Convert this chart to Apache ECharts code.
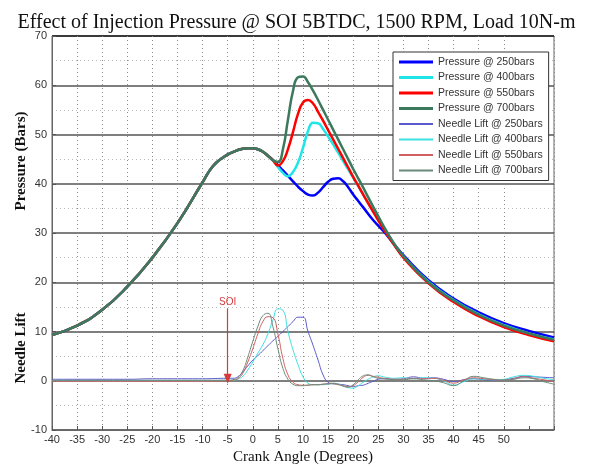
<!DOCTYPE html>
<html lang="en">
<head>
    <meta http-equiv="Content-Type" content="text/html; charset=UTF-8">
    <title>Effect of Injection Pressure</title>
    <script type="text/javascript" src="https://cdn.jsdelivr.net/npm/echarts@6/dist/echarts.min.js"></script>
</head>

<body style="margin: 0; width: 593px; height: 470px; background: #fff">
<div id="main" style="width: 593px; height: 470px"></div>
<script type="text/javascript">
    // crank angles used for the pressure traces
    var pAngle = [-40, -35, -30, -25, -20, -15, -10, -8, -6, -4, -2, -1,
        0, 1, 2, 3, 4, 5, 6, 7, 8, 9, 10, 11, 12, 13, 14, 15, 16, 17, 18, 19, 20, 21, 22,
        24, 26, 28, 30, 35, 40, 45, 50, 55, 60];

    // compression part, same for all four pressures (-40 .. 4 deg)
    var pCommon = [9.3, 11.2, 14.4, 19.1, 25.0, 32.0, 40.3, 43.5, 45.3, 46.4, 47.1, 47.2,
        47.2, 47.0, 46.5, 45.7, 44.8];

    // from 5 deg onward
    var p250 = [43.8, 42.7, 41.6, 40.5, 39.4, 38.5, 37.8, 37.6, 38.2, 39.3, 40.4, 41.0, 41.1, 40.5, 39.3, 37.8, 36.5, 35.2,
        32.6, 30.4, 27.9, 25.5, 20.4, 16.7, 13.9, 11.7, 10.1, 8.8];
    var p400 = [43.4, 42.2, 41.5, 42.4, 44.3, 47.3, 50.7, 52.4, 52.3, 51.1, 49.6, 48.0, 46.3, 44.6, 42.9, 41.2, 39.5, 37.8,
        34.3, 31.0, 27.9, 25.2, 20.1, 16.4, 13.5, 11.3, 9.6, 8.4];
    var p550 = [43.7, 44.6, 47.0, 50.5, 54.2, 56.5, 57.0, 56.3, 54.6, 52.8, 50.9, 49.0, 47.1, 45.2, 43.3, 41.4, 39.6, 37.8,
        34.3, 30.9, 27.8, 25.0, 19.8, 16.0, 13.1, 10.9, 9.3, 8.0];
    var p700 = [44.4, 47.0, 53.0, 58.8, 61.6, 61.8, 60.6, 58.9, 57.0, 55.0, 53.0, 51.0, 49.0, 47.0, 45.0, 43.0, 41.1, 39.2,
        35.3, 31.5, 28.1, 25.3, 20.0, 16.3, 13.4, 11.2, 9.6, 8.3];

    // crank angles used for the needle lift traces
    var liftAngle = [-40, -35, -30, -25, -20, -15, -10, -5, -4, -3, -2, -1,
        0, 1, 2, 3, 4, 5, 6, 7, 8, 9, 10, 11, 12, 13, 14, 15, 16, 17, 18, 19, 20, 21, 22, 23, 24, 25, 26, 27, 28,
        30, 32, 34, 36, 38, 40, 42, 44, 46, 48, 50, 52, 54, 56, 58, 60];

    var lift250 = [0.3, 0.3, 0.3, 0.3, 0.4, 0.4, 0.4, 0.5, 0.5, 0.8, 1.8, 3.0,
        4.2, 5.1, 6.1, 7.1, 8.1, 9.0, 10.0, 11.0, 12.0, 12.9, 12.9, 10.0, 7.2, 4.2, 1.2, -0.3, -0.6, -0.7, -0.8, -1.0, -1.2,
        -1.0, -0.9, -0.5, -0.1, 0.3, 0.4, 0.4, 0.3,
        0.4, 0.8, 0.5, 0.6, 0.3, -0.2, 0.2, 0.4, 0.2, 0.1, 0.2, 0.5, 0.9, 0.8, 0.7, 0.6];
    var lift400 = [0.0, 0.0, 0.0, 0.0, 0.0, 0.0, 0.0, 0.1, 0.1, 0.3, 0.9, 2.2,
        3.8, 5.6, 7.3, 9.5, 12.3, 14.6, 14.3, 10.0, 6.3, 3.3, 0.8, -0.5, -0.8, -0.8, -0.8, -0.7, -0.6, -0.7, -1.0, -1.4, -1.5,
        -1.0, -0.3, 0.3, 0.8, 1.0, 0.8, 0.6, 0.5,
        0.6, 0.4, 0.6, 0.5, 0.0, -0.9, -0.2, 0.4, 0.3, 0.2, 0.3, 0.8, 1.1, 0.9, 0.5, 0.2];
    var lift550 = [-0.1, -0.1, -0.1, -0.1, -0.1, -0.1, -0.1, 0.0, 0.1, 0.4, 1.5, 3.8,
        6.5, 9.5, 12.0, 13.0, 12.8, 9.5, 4.5, 1.2, -0.3, -0.8, -0.9, -0.9, -0.8, -0.8, -0.7, -0.6, -0.6, -0.8, -1.0, -1.2, -1.0,
        -0.2, 0.7, 1.1, 0.9, 0.7, 0.5, 0.4, 0.3,
        0.3, 0.5, 0.4, 0.5, 0.1, -0.5, 0.2, 0.6, 0.4, 0.2, 0.1, 0.4, 0.8, 0.5, 0.2, -0.2];
    var lift700 = [0.1, 0.1, 0.1, 0.1, 0.1, 0.1, 0.1, 0.1, 0.2, 0.6, 2.0, 4.8,
        8.0, 11.0, 13.2, 13.7, 11.0, 6.5, 2.5, 0.3, -0.7, -1.0, -1.0, -0.9, -0.8, -0.8, -0.7, -0.6, -0.5, -0.7, -1.1, -1.3, -0.8,
        0.2, 1.0, 1.2, 0.8, 0.5, 0.4, 0.3, 0.2,
        0.2, 0.4, 0.2, 0.0, -0.4, -1.0, 0.0, 0.9, 0.6, 0.3, 0.1, 0.3, 0.6, 0.4, -0.2, -0.7];

    var seriesNames = ['Pressure @ 250bars', 'Pressure @ 400bars', 'Pressure @ 550bars', 'Pressure @ 700bars',
        'Needle Lift @ 250bars', 'Needle Lift @ 400bars', 'Needle Lift @ 550bars', 'Needle Lift @ 700bars'];
    var seriesColors = ['#0000ff', '#1fe6e6', '#ff0000', '#3b7a5c',
        '#5a5acd', '#3fe0e0', '#d25f5f', '#6b8a7a'];

    // x axis ticks, labels stop at 50
    var xTicks = [];
    for (var t = -40; t <= 60; t += 5) xTicks.push(t);
    var lastLabel = 50;

    // SOI marker
    var soiAngle = -5;
    var soiFrom = 14.6;
    var soiTo = 0.4;

    function pairs(xs, ys) {
        return xs.map(function (x, i) { return [x, ys[i]]; });
    }

    var pressures = [p250, p400, p550, p700];
    var lifts = [lift250, lift400, lift550, lift700];

    var series = [];
    pressures.forEach(function (p, i) {
        series.push({
            name: seriesNames[i],
            type: 'line',
            smooth: true,
            symbol: 'none',
            lineStyle: { width: 2.5, color: seriesColors[i] },
            itemStyle: { color: seriesColors[i] },
            data: pairs(pAngle, pCommon.concat(p)),
            z: 3
        });
    });
    lifts.forEach(function (l, i) {
        series.push({
            name: seriesNames[i + 4],
            type: 'line',
            smooth: true,
            symbol: 'none',
            lineStyle: { width: 1, color: seriesColors[i + 4] },
            itemStyle: { color: seriesColors[i + 4] },
            data: pairs(liftAngle, l),
            z: 2
        });
    });

    // arrow for start of injection
    series[4].markLine = {
        silent: true,
        symbol: ['none', 'triangle'],
        symbolSize: [8, 10],
        lineStyle: { color: '#d43c3c', width: 1.2, type: 'solid' },
        label: {
            show: true, position: 'start', formatter: 'SOI', color: '#d43c3c',
            fontFamily: 'Liberation Sans', fontSize: 10, distance: 2
        },
        data: [[{ coord: [soiAngle, soiFrom] }, { coord: [soiAngle, soiTo] }]]
    };

    // legend entries: thick line for pressure, thin line for needle lift
    var legendData = seriesNames.map(function (n, i) {
        return {
            name: n,
            icon: i < 4 ? 'path://M0,0L34,0L34,3L0,3Z' : 'path://M0,0L34,0L34,2L0,2Z',
            itemStyle: { color: seriesColors[i] }
        };
    });

    var myChart = echarts.init(document.getElementById('main'));

    myChart.setOption({
        animation: false,
        backgroundColor: '#fff',
        title: {
            text: 'Effect of Injection Pressure @ SOI 5BTDC, 1500 RPM, Load 10N-m',
            left: 'center',
            top: 8,
            textStyle: {
                fontFamily: 'Liberation Serif',
                fontWeight: 'normal',
                fontSize: 20,
                color: '#111'
            }
        },
        legend: {
            data: legendData,
            orient: 'vertical',
            left: 393,
            top: 52,
            itemWidth: 34,
            itemHeight: 3,
            itemGap: 3.5,
            padding: [4, 6, 4, 6],
            borderColor: '#333',
            borderWidth: 1,
            backgroundColor: '#fff',
            textStyle: {
                fontFamily: 'Liberation Sans',
                fontSize: 10.5,
                lineHeight: 12,
                color: '#333'
            }
        },
        grid: {
            left: 52,
            right: 39,
            top: 36,
            bottom: 34,
            show: true,
            borderColor: '#666',
            borderWidth: 1
        },
        graphic: [
            {
                type: 'text',
                x: 21,
                y: 161,
                rotation: Math.PI / 2,
                style: {
                    text: 'Pressure (Bars)',
                    fill: '#111',
                    font: 'bold 15px "Liberation Serif"',
                    align: 'center',
                    verticalAlign: 'middle'
                }
            },
            {
                type: 'text',
                x: 21,
                y: 348,
                rotation: Math.PI / 2,
                style: {
                    text: 'Needle Lift',
                    fill: '#111',
                    font: 'bold 15px "Liberation Serif"',
                    align: 'center',
                    verticalAlign: 'middle'
                }
            }
        ],
        xAxis: {
            type: 'value',
            min: -40,
            max: 60,
            interval: 5,
            name: 'Crank Angle (Degrees)',
            nameLocation: 'middle',
            nameGap: 20,
            nameTextStyle: {
                fontFamily: 'Liberation Serif',
                fontSize: 15,
                color: '#111'
            },
            axisLine: { show: true, onZero: false, lineStyle: { color: '#666', width: 1 } },
            axisTick: { show: true, inside: true, length: 4, lineStyle: { color: '#555' } },
            axisLabel: {
                fontFamily: 'Liberation Sans',
                fontSize: 11,
                color: '#333',
                margin: 4,
                formatter: function (v) { return v > lastLabel ? '' : String(v); }
            },
            splitLine: {
                show: true,
                lineStyle: {
                    type: [1, 3],
                    width: 1,
                    color: xTicks.map(function (v) { return (v > lastLabel && v < 60) ? 'rgba(0,0,0,0)' : '#888'; })
                }
            }
        },
        yAxis: {
            type: 'value',
            min: -10,
            max: 70,
            interval: 10,
            axisLine: { show: true, onZero: false, lineStyle: { color: '#666', width: 1 } },
            axisTick: { show: true, inside: true, length: 4, lineStyle: { color: '#555' } },
            axisLabel: {
                fontFamily: 'Liberation Sans',
                fontSize: 11,
                color: '#333',
                margin: 5
            },
            splitLine: {
                show: true,
                lineStyle: {
                    color: ['#555', '#555', '#555', '#555', '#555', '#555', '#555', '#555', '#111'],
                    width: 1.5
                }
            },
            minorTick: { show: false, splitNumber: 2 },
            minorSplitLine: {
                show: true,
                lineStyle: { color: '#bbb', type: [1, 3], width: 1 }
            }
        },
        series: series
    });
</script>
</body>
</html>
